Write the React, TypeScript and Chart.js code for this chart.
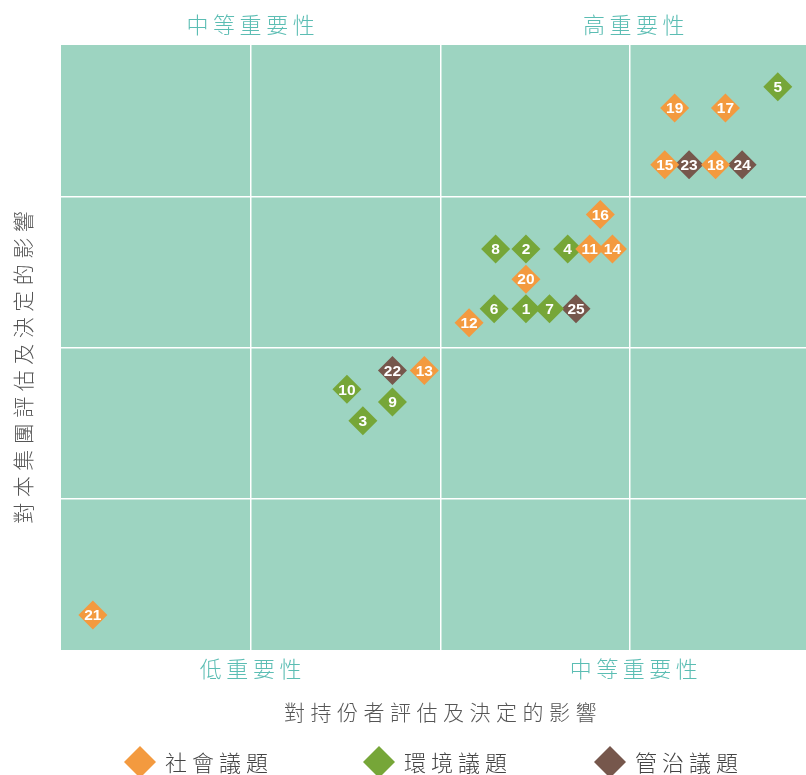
import React, { useEffect, useRef } from 'react';
import { Chart, registerables } from 'chart.js';
Chart.register(...registerables);

// Social issues (orange)
const socialIds = ['11', '12', '13', '14', '15', '16', '17', '18', '19', '20', '21'];
const socialX = [69.7, 53.8, 47.9, 72.7, 79.6, 71.1, 87.6, 86.3, 80.9, 61.3, 4.2];
const socialY = [66.3, 54.1, 46.2, 66.3, 80.2, 72.0, 89.6, 80.2, 89.6, 61.3, 5.8];
// Environmental issues (green)
const envIds = ['1', '2', '3', '4', '5', '6', '7', '8', '9', '10'];
const envX = [61.3, 61.3, 39.8, 66.8, 94.5, 57.1, 64.4, 57.3, 43.7, 37.7];
const envY = [56.4, 66.3, 37.9, 66.3, 93.1, 56.4, 56.4, 66.3, 41.0, 43.1];
// Governance issues (brown)
const govIds = ['22', '23', '24', '25'];
const govX = [43.7, 82.8, 89.8, 67.9];
const govY = [46.2, 80.2, 80.2, 56.4];

const seriesNames = ['社會議題', '環境議題', '管治議題'];
const seriesColors = ['#f39a3f', '#76a638', '#76574c'];

const topLabels = ['中等重要性', '高重要性'];
const bottomLabels = ['低重要性', '中等重要性'];
const quadrantLabelX = [25, 75.5];
const xTitle = '對持份者評估及決定的影響';
const yTitle = '對本集團評估及決定的影響';

const CJK = '"Noto Sans CJK TC", "Noto Sans CJK SC", sans-serif';

function spacedText(ctx: CanvasRenderingContext2D, text: string, cx: number, cy: number, spacing: number, align: 'center' | 'left' = 'center') {
  const chars = Array.from(text);
  const widths = chars.map((c) => ctx.measureText(c).width);
  const total = widths.reduce((a, b) => a + b, 0) + spacing * (chars.length - 1);
  let x = align === 'center' ? cx - total / 2 : cx;
  ctx.textAlign = 'left';
  ctx.textBaseline = 'middle';
  chars.forEach((c, i) => {
    ctx.fillText(c, x, cy);
    x += widths[i] + spacing;
  });
}

export default function App() {
  const ref = useRef<HTMLCanvasElement>(null);
  useEffect(() => {
    document.body.style.margin = '0';
    document.body.style.overflow = 'hidden';
    const canvas = ref.current!;
    const mk = (label: string, ids: string[], xs: number[], ys: number[], color: string) => ({
      label,
      data: xs.map((x, i) => ({ x, y: ys[i], id: ids[i] })),
      backgroundColor: color,
      borderColor: color,
      borderWidth: 0,
      pointStyle: 'rectRot',
      pointRadius: 14.5,
      pointHoverRadius: 14.5,
    });

    const bgPlugin = {
      id: 'bg',
      beforeDraw(chart: any) {
        const { ctx, chartArea: a } = chart;
        ctx.save();
        ctx.fillStyle = '#9dd4c1';
        ctx.fillRect(a.left, a.top, a.right - a.left, a.bottom - a.top);
        ctx.restore();
      },
    };

    const labelPlugin = {
      id: 'labels',
      afterDatasetsDraw(chart: any) {
        const { ctx } = chart;
        ctx.save();
        ctx.fillStyle = '#ffffff';
        ctx.font = 'bold 15.5px "Liberation Sans", Arial, sans-serif';
        ctx.textAlign = 'center';
        ctx.textBaseline = 'middle';
        chart.data.datasets.forEach((ds: any, di: number) => {
          const meta = chart.getDatasetMeta(di);
          meta.data.forEach((el: any, i: number) => {
            ctx.fillText(ds.data[i].id, el.x, el.y + 1);
          });
        });
        ctx.restore();
      },
      afterDraw(chart: any) {
        const { ctx, chartArea: a, scales } = chart;
        const xs = scales.x;
        ctx.save();
        // quadrant labels
        ctx.font = `300 22px ${CJK}`;
        ctx.fillStyle = '#5bbdb3';
        topLabels.forEach((t, i) => spacedText(ctx, t, xs.getPixelForValue(quadrantLabelX[i]), a.top - 20, 4.5));
        bottomLabels.forEach((t, i) => spacedText(ctx, t, xs.getPixelForValue(quadrantLabelX[i]), a.bottom + 19, 4.5));
        // axis titles
        ctx.font = `300 21px ${CJK}`;
        ctx.fillStyle = '#555555';
        spacedText(ctx, xTitle, xs.getPixelForValue(50), a.bottom + 62, 5.5);
        ctx.translate(23, (a.top + a.bottom) / 2 + 20);
        ctx.rotate(-Math.PI / 2);
        spacedText(ctx, yTitle, 0, 0, 5.5);
        ctx.restore();
        // legend
        ctx.save();
        const legX = [140, 379, 610];
        const legY = 762;
        seriesNames.forEach((n, i) => {
          const cx = legX[i];
          ctx.fillStyle = seriesColors[i];
          ctx.beginPath();
          ctx.moveTo(cx - 16, legY);
          ctx.lineTo(cx, legY - 16);
          ctx.lineTo(cx + 16, legY);
          ctx.lineTo(cx, legY + 16);
          ctx.closePath();
          ctx.fill();
          ctx.font = `300 22px ${CJK}`;
          ctx.fillStyle = '#444444';
          spacedText(ctx, n, cx + 25, legY + 1, 5, 'left');
        });
        ctx.restore();
      },
    };

    const gridColor = (c: any) => (c.tick && (c.tick.value <= 0 || c.tick.value >= 100) ? 'rgba(0,0,0,0)' : '#ffffff');

    const chart = new Chart(canvas, {
      type: 'scatter',
      data: {
        datasets: [
          mk(seriesNames[0], socialIds, socialX, socialY, seriesColors[0]),
          mk(seriesNames[1], envIds, envX, envY, seriesColors[1]),
          mk(seriesNames[2], govIds, govX, govY, seriesColors[2]),
        ] as any,
      },
      options: {
        responsive: false,
        animation: false,
        events: [],
        layout: { padding: { left: 61, top: 45, right: 0, bottom: 125 } },
        plugins: { legend: { display: false }, tooltip: { enabled: false } },
        scales: {
          x: {
            type: 'linear',
            min: 0,
            max: 100,
            ticks: { display: false, stepSize: 25 },
            grid: { color: gridColor, lineWidth: 1.5, drawTicks: false },
            border: { display: false },
          },
          y: {
            type: 'linear',
            min: 0,
            max: 100,
            ticks: { display: false, stepSize: 25 },
            grid: { color: gridColor, lineWidth: 1.5, drawTicks: false },
            border: { display: false },
          },
        },
      } as any,
      plugins: [bgPlugin, labelPlugin],
    });
    return () => chart.destroy();
  }, []);
  return (
    <div style={{ width: 806, height: 775, overflow: 'hidden', position: 'relative' }}>
      <canvas
        ref={ref}
        width={834}
        height={775}
        style={{ display: 'block', position: 'absolute', left: 0, top: 0, width: 834, height: 775 }}
      />
    </div>
  );
}
